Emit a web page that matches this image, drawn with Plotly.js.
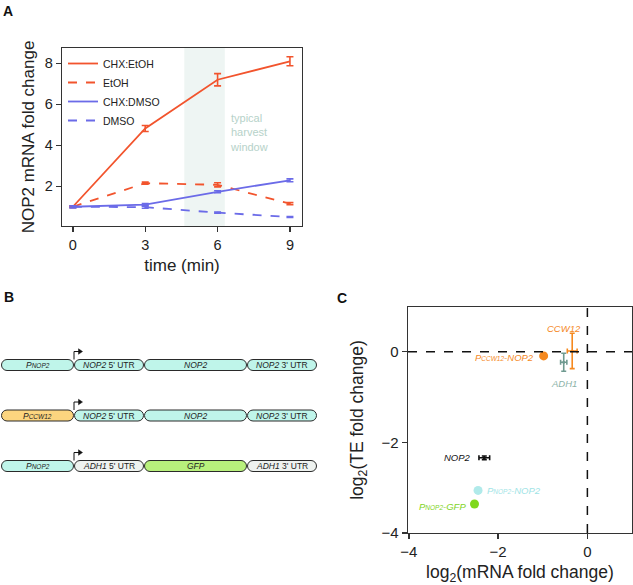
<!DOCTYPE html>
<html><head><meta charset="utf-8">
<script src="https://cdn.plot.ly/plotly-3.0.1.min.js"></script>
<style>html,body{margin:0;padding:0;background:#fff}#chart{width:633px;height:585px}</style>
</head><body><div id="chart"></div>
<script>
// ---------- Panel A data ----------
const timeMin = [0, 3, 6, 9];
const chxEtoh = [1.0, 4.82, 7.2, 8.1];
const chxEtohErr = [0.04, 0.15, 0.3, 0.22];
const etoh = [1.0, 2.15, 2.07, 1.15];
const etohErr = [0.04, 0.05, 0.1, 0.05];
const chxDmso = [1.0, 1.1, 1.73, 2.29];
const chxDmsoErr = [0.05, 0.05, 0.05, 0.07];
const dmso = [1.0, 0.98, 0.71, 0.5];
const dmsoErr = [0.05, 0.05, 0.03, 0.02];
const harvestWindow = [4.62, 6.3];
const seriesNames = ['CHX:EtOH', 'EtOH', 'CHX:DMSO', 'DMSO'];

// ---------- Panel B data ----------
const promoterGene = ['NOP2', 'CCW12', 'NOP2'];
const utr5Gene = ['NOP2', 'NOP2', 'ADH1'];
const cdsGene = ['NOP2', 'NOP2', 'GFP'];
const utr3Gene = ['NOP2', 'NOP2', 'ADH1'];
const partBounds = [0, 73, 143, 246, 316]; // diagram units along the construct

// ---------- Panel C data ----------
const geneNames = ['CCW12', 'ADH1', 'NOP2'];
const geneMrna = [-0.34, -0.53, -2.31];
const geneMrnaErr = [0.11, 0.07, 0.12];
const geneTe = [0.02, -0.23, -2.34];
const geneTeErr = [0.39, 0.2, 0.04];
const reporterPromoter = ['CCW12', 'NOP2', 'NOP2'];
const reporterGene = ['NOP2', 'NOP2', 'GFP'];
const reporterMrna = [-0.98, -2.45, -2.53];
const reporterTe = [-0.09, -3.06, -3.36];

// ---------- styles ----------
const FONT = 'Liberation Sans, Arial, Helvetica, sans-serif';
const RED = '#f2542d', BLUE = '#6b6be8';
const partColor = {NOP2: '#bff5ea', CCW12: '#fcd57f', ADH1: '#eef2ef', GFP: '#b8f07c'};
const geneColor = {CCW12: '#f5891f', ADH1: '#6f9a90', NOP2: '#111111'};
const geneLabelColor = {CCW12: '#f5891f', ADH1: '#8db3a9', NOP2: '#111111'};
const reporterColor = ['#f5891f', '#b0eaea', '#7fd81c'];
const reporterLabelColor = ['#f5891f', '#9fe4e6', '#7fd41e'];
const W = 633, H = 585;
const px = v => v / W, py = v => 1 - v / H;
const SUB = s => `<span style="font-size:6.5px">${s}</span>`;

const traces = [];
const aSeries = [
  {y: chxEtoh, e: chxEtohErr, c: RED, d: 'solid'},
  {y: etoh, e: etohErr, c: RED, d: 'dash'},
  {y: chxDmso, e: chxDmsoErr, c: BLUE, d: 'solid'},
  {y: dmso, e: dmsoErr, c: BLUE, d: 'dash'}
];
aSeries.forEach((s, i) => traces.push({
  type: 'scatter', mode: 'lines', x: timeMin, y: s.y, name: seriesNames[i],
  xaxis: 'x', yaxis: 'y',
  line: {color: s.c, width: 1.8, dash: s.d},
  error_y: {type: 'data', array: s.e, visible: true, color: s.c, thickness: 1.6, width: 3.5},
  hoverinfo: 'skip'
}));

// Panel C genes with error bars
geneNames.forEach((g, i) => traces.push({
  type: 'scatter', mode: 'markers', x: [geneMrna[i]], y: [geneTe[i]], name: g,
  xaxis: 'x2', yaxis: 'y2', showlegend: false,
  marker: {size: 3, color: geneColor[g]},
  error_x: {type: 'data', array: [geneMrnaErr[i]], visible: true, color: geneColor[g], thickness: 1.6, width: 2.5},
  error_y: {type: 'data', array: [geneTeErr[i]], visible: true, color: geneColor[g], thickness: 1.6, width: 2.5},
  hoverinfo: 'skip'
}));
traces.push({
  type: 'scatter', mode: 'markers', x: reporterMrna, y: reporterTe, name: 'reporters',
  xaxis: 'x2', yaxis: 'y2', showlegend: false,
  marker: {size: 9, color: reporterColor}, hoverinfo: 'skip'
});

// Panel B: invisible anchor trace so the axes exist
traces.push({type: 'scatter', mode: 'markers', x: [partBounds[0]], y: [0], xaxis: 'x3', yaxis: 'y3',
  marker: {opacity: 0}, showlegend: false, hoverinfo: 'skip'});

const shapes = [];
const annotations = [];

// Panel A harvest window
shapes.push({type: 'rect', xref: 'x', yref: 'y domain', x0: harvestWindow[0], x1: harvestWindow[1], y0: 0, y1: 1,
  fillcolor: '#eef5f3', line: {width: 0}, layer: 'below'});
annotations.push({xref: 'x', yref: 'y', x: 6.45, y: 4.62, xanchor: 'left', yanchor: 'middle', align: 'left',
  text: 'typical<br>harvest<br>window', showarrow: false, font: {family: FONT, size: 11, color: '#b6d2c9'}});

// Panel C reference lines
shapes.push({type: 'line', xref: 'x2', yref: 'y2 domain', x0: 0, x1: 0, y0: 0, y1: 1, line: {color: '#111', width: 1.5, dash: 'dash'}});
shapes.push({type: 'line', xref: 'x2 domain', yref: 'y2', x0: 0, x1: 1, y0: 0, y1: 0, line: {color: '#111', width: 1.5, dash: 'dash'}});

// Panel C labels
const geneLabelPos = {
  CCW12: {xanchor: 'center', xshift: -8, yshift: 22},
  ADH1: {xanchor: 'center', xshift: 0, yshift: -21},
  NOP2: {xanchor: 'right', xshift: -11, yshift: 0}
};
geneNames.forEach((g, i) => annotations.push(Object.assign({
  xref: 'x2', yref: 'y2', x: geneMrna[i], y: geneTe[i], yanchor: 'middle', showarrow: false,
  text: '<i>' + g + '</i>', font: {family: FONT, size: 9.5, color: geneLabelColor[g]}
}, geneLabelPos[g])));
const reporterLabelPos = [
  {xanchor: 'right', xshift: -8, yshift: -2},
  {xanchor: 'left', xshift: 7, yshift: 0},
  {xanchor: 'right', xshift: -6, yshift: -2}
];
reporterPromoter.forEach((p, i) => annotations.push(Object.assign({
  xref: 'x2', yref: 'y2', x: reporterMrna[i], y: reporterTe[i], yanchor: 'middle', showarrow: false,
  text: '<i>P' + SUB(p) + '-' + reporterGene[i] + '</i>', font: {family: FONT, size: 9.5, color: reporterLabelColor[i]}
}, reporterLabelPos[i])));

// Panel B constructs
const halfH = 0.109, rx = 5.5, k = 0.5523;
function pill(x0, x1, yc) {
  const t = yc - halfH, b = yc + halfH;
  return `M${x0 + rx},${t} L${x1 - rx},${t} ` +
    `C${x1 - rx + k * rx},${t} ${x1},${yc - k * halfH} ${x1},${yc} ` +
    `C${x1},${yc + k * halfH} ${x1 - rx + k * rx},${b} ${x1 - rx},${b} ` +
    `L${x0 + rx},${b} ` +
    `C${x0 + rx - k * rx},${b} ${x0},${yc + k * halfH} ${x0},${yc} ` +
    `C${x0},${yc - k * halfH} ${x0 + rx - k * rx},${t} ${x0 + rx},${t} Z`;
}
[promoterGene, utr5Gene, cdsGene, utr3Gene].forEach((col, p) => {
  col.forEach((gene, row) => {
    const x0 = partBounds[p], x1 = partBounds[p + 1];
    shapes.push({type: 'path', xref: 'x3', yref: 'y3', path: pill(x0 + 0.5, x1 - 0.5, row),
      fillcolor: partColor[gene], line: {color: '#2a2a2a', width: 1}});
    let label;
    if (p === 0) label = '<i>P' + SUB(gene) + '</i>';
    else if (p === 1) label = '<i>' + gene + "</i> 5' UTR";
    else if (p === 2) label = '<i>' + gene + '</i>';
    else label = '<i>' + gene + "</i> 3' UTR";
    annotations.push({xref: 'x3', yref: 'y3', x: (x0 + x1) / 2, y: row, showarrow: false,
      text: label, font: {family: FONT, size: 8.5, color: '#222'}, xanchor: 'center', yanchor: 'middle'});
  });
});
// promoter arrows
promoterGene.forEach((g, row) => {
  const xs = partBounds[1], top = row - halfH, up = top - 0.158;
  shapes.push({type: 'path', xref: 'x3', yref: 'y3', path: `M${xs},${top} L${xs},${up} L${xs + 5},${up}`,
    line: {color: '#111', width: 1}});
  shapes.push({type: 'path', xref: 'x3', yref: 'y3',
    path: `M${xs + 4.5},${up - 0.055} L${xs + 8.5},${up} L${xs + 4.5},${up + 0.055} Z`,
    fillcolor: '#111', line: {color: '#111', width: 0.5}});
});

// Panel letters
[['A', 8, 10.5], ['B', 8.5, 297], ['C', 342, 297.5]].forEach(([t, x, y]) => annotations.push({
  xref: 'paper', yref: 'paper', x: px(x), y: py(y), xanchor: 'center', yanchor: 'middle', showarrow: false,
  text: '<b>' + t + '</b>', font: {family: FONT, size: 14, color: '#111'}
}));

const axisCommon = {
  showline: true, mirror: true, linecolor: '#333', linewidth: 1.3, ticks: 'outside', ticklen: 5,
  tickwidth: 1.3, tickcolor: '#333', showgrid: false, zeroline: false, automargin: false,
  tickfont: {family: FONT, size: 14.5, color: '#222'}
};

const layout = {
  width: W, height: H, margin: {l: 0, r: 0, t: 0, b: 0}, paper_bgcolor: '#fff', plot_bgcolor: '#fff',
  font: {family: FONT},
  showlegend: true,
  legend: {x: px(63), y: py(49), xanchor: 'left', yanchor: 'top', bgcolor: 'rgba(0,0,0,0)',
    font: {family: FONT, size: 10.5, color: '#222'}, itemwidth: 30, tracegroupgap: 0},
  xaxis: Object.assign({}, axisCommon, {domain: [px(62), px(302)], range: [-0.45, 9.5], anchor: 'y',
    tickvals: timeMin, title: {text: 'time (min)', font: {family: FONT, size: 17, color: '#222'}, standoff: 7}}),
  yaxis: Object.assign({}, axisCommon, {domain: [py(226), py(48)], range: [0.06, 8.75], anchor: 'x',
    tickvals: [2, 4, 6, 8], title: {text: 'NOP2 mRNA fold change', font: {family: FONT, size: 17, color: '#222'}, standoff: 5}}),
  xaxis2: Object.assign({}, axisCommon, {domain: [px(408), px(632)], range: [-4.02, 1.0], anchor: 'y2',
    tickvals: [-4, -2, 0], tickfont: {family: FONT, size: 15, color: '#222'},
    title: {text: 'log<sub>2</sub>(mRNA fold change)', font: {family: FONT, size: 17.5, color: '#222'}, standoff: 6}}),
  yaxis2: Object.assign({}, axisCommon, {domain: [py(533), py(307)], range: [-4.0, 0.99], anchor: 'x2',
    tickvals: [-4, -2, 0], tickfont: {family: FONT, size: 15, color: '#222'},
    title: {text: 'log<sub>2</sub>(TE fold change)', font: {family: FONT, size: 17.5, color: '#222'}, standoff: 13}}),
  xaxis3: {domain: [px(1), px(317)], range: [0, 316], anchor: 'y3', visible: false, fixedrange: true},
  yaxis3: {domain: [py(491.25), py(339.75)], range: [2.5, -0.5], anchor: 'x3', visible: false, fixedrange: true},
  shapes: shapes,
  annotations: annotations
};

Plotly.newPlot('chart', traces, layout, {staticPlot: true, displayModeBar: false});
</script></body></html>
